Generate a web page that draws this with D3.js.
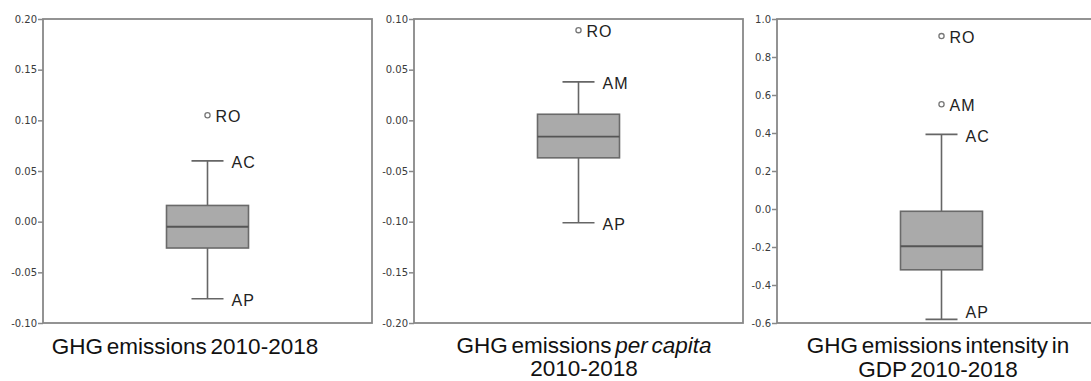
<!DOCTYPE html>
<html>
<head>
<meta charset="utf-8">
<script src="https://cdn.jsdelivr.net/npm/d3@7"></script>
<style>
  body { margin: 0; background: #fff; }
  .tick text { font-family: "DejaVu Sans", sans-serif; font-size: 10px; fill: #3a3a3a; }
  .tick line { stroke: #888; stroke-width: 1.5; }
  .lbl { font-family: "Liberation Sans", Arial, sans-serif; font-size: 16px; fill: #222; letter-spacing: 1px; }
  .title { font-family: "Liberation Sans", Arial, sans-serif; font-size: 22.5px; fill: #111; word-spacing: -2.5px; }
</style>
</head>
<body>
<div id="chart"></div>
<script>
// box plot summaries, one per indicator
const lowerWhisker = [-0.076, -0.101, -0.581];
const firstQuartile = [-0.026, -0.037, -0.320];
const medians = [-0.005, -0.016, -0.196];
const thirdQuartile = [0.016, 0.006, -0.012];
const upperWhisker = [0.060, 0.038, 0.393];
const lowLabels = ["AP", "AP", "AP"];
const highLabels = ["AC", "AM", "AC"];
const outliers = [
    [{ code: "RO", value: 0.105 }],
    [{ code: "RO", value: 0.089 }],
    [{ code: "RO", value: 0.91 }, { code: "AM", value: 0.551 }]
];
const yDomains = [[-0.10, 0.20], [-0.20, 0.10], [-0.6, 1.0]];
const tickValues = [
    [-0.10, -0.05, 0.00, 0.05, 0.10, 0.15, 0.20],
    [-0.20, -0.15, -0.10, -0.05, 0.00, 0.05, 0.10],
    [-0.6, -0.4, -0.2, 0.0, 0.2, 0.4, 0.6, 0.8, 1.0]
];
const tickFormats = [".2f", ".2f", ".1f"];

/** CONSTANTS */
const width = 1091,
    height = 381,
    plotTop = 19,
    plotBottom = 323,
    frameWidth = 329,
    boxWidth = 82,
    capWidth = 32;

// left edge of each panel frame and where its caption sits
const frameLeft = [43, 414, 777];
const titleX = [185, 584, 938];
const lowLabelLift = [0, 0, -9];

const fmtLocale = d3.formatLocale({ decimal: ".", thousands: ",", grouping: [3], currency: ["", ""], minus: "-" });

const svg = d3.select("#chart")
    .append("svg")
    .attr("width", width)
    .attr("height", height);

frameLeft.forEach((x0, i) => {
    const yScale = d3.scaleLinear()
        .domain(yDomains[i])
        .range([plotBottom, plotTop]);

    const cx = x0 + frameWidth / 2;
    const g = svg.append("g");

    // axis
    const yAxis = d3.axisLeft(yScale)
        .tickValues(tickValues[i])
        .tickSize(5)
        .tickPadding(1)
        .tickFormat(fmtLocale.format(tickFormats[i]));

    g.append("g")
        .attr("transform", `translate(${x0},0)`)
        .call(yAxis)
        .call(a => a.select(".domain").remove());

    // frame round the plot
    g.append("rect")
        .attr("x", x0)
        .attr("y", plotTop)
        .attr("width", frameWidth)
        .attr("height", plotBottom - plotTop)
        .attr("fill", "none")
        .attr("stroke", "#888")
        .attr("stroke-width", 1.8);

    // whiskers
    g.append("line")
        .attr("x1", cx).attr("x2", cx)
        .attr("y1", yScale(lowerWhisker[i]))
        .attr("y2", yScale(upperWhisker[i]))
        .attr("stroke", "#666")
        .attr("stroke-width", 1.6);

    [lowerWhisker[i], upperWhisker[i]].forEach(v => {
        g.append("line")
            .attr("x1", cx - capWidth / 2).attr("x2", cx + capWidth / 2)
            .attr("y1", yScale(v)).attr("y2", yScale(v))
            .attr("stroke", "#666")
            .attr("stroke-width", 1.6);
    });

    // box
    g.append("rect")
        .attr("x", cx - boxWidth / 2)
        .attr("y", yScale(thirdQuartile[i]))
        .attr("width", boxWidth)
        .attr("height", yScale(firstQuartile[i]) - yScale(thirdQuartile[i]))
        .attr("fill", "#aaaaaa")
        .attr("stroke", "#6a6a6a")
        .attr("stroke-width", 1.6);

    g.append("line")
        .attr("x1", cx - boxWidth / 2).attr("x2", cx + boxWidth / 2)
        .attr("y1", yScale(medians[i])).attr("y2", yScale(medians[i]))
        .attr("stroke", "#555")
        .attr("stroke-width", 1.8);

    // whisker end labels
    g.append("text")
        .attr("class", "lbl")
        .attr("x", cx + capWidth / 2 + 8)
        .attr("y", yScale(upperWhisker[i]))
        .attr("dy", "0.45em")
        .text(highLabels[i]);

    g.append("text")
        .attr("class", "lbl")
        .attr("x", cx + capWidth / 2 + 8)
        .attr("y", yScale(lowerWhisker[i]) + lowLabelLift[i])
        .attr("dy", "0.45em")
        .text(lowLabels[i]);

    // outliers
    g.selectAll("circle.out")
        .data(outliers[i])
        .join("circle")
        .attr("class", "out")
        .attr("cx", cx)
        .attr("cy", d => yScale(d.value))
        .attr("r", 2.6)
        .attr("fill", "#fff")
        .attr("stroke", "#777")
        .attr("stroke-width", 1.3);

    g.selectAll("text.outlbl")
        .data(outliers[i])
        .join("text")
        .attr("class", "lbl outlbl")
        .attr("x", cx + 8)
        .attr("y", d => yScale(d.value))
        .attr("dy", "0.4em")
        .text(d => d.code);
});

// captions under each panel
svg.append("text").attr("class", "title")
    .attr("x", titleX[0]).attr("y", 354).attr("text-anchor", "middle")
    .text("GHG emissions 2010-2018");

const t2 = svg.append("text").attr("class", "title")
    .attr("x", titleX[1]).attr("y", 353).attr("text-anchor", "middle");
t2.append("tspan").text("GHG emissions ");
t2.append("tspan").attr("font-style", "italic").text("per capita");
svg.append("text").attr("class", "title")
    .attr("x", titleX[1]).attr("y", 376).attr("text-anchor", "middle")
    .text("2010-2018");

svg.append("text").attr("class", "title")
    .attr("x", titleX[2]).attr("y", 353).attr("text-anchor", "middle")
    .text("GHG emissions intensity in");
svg.append("text").attr("class", "title")
    .attr("x", titleX[2]).attr("y", 377).attr("text-anchor", "middle")
    .text("GDP 2010-2018");
</script>
</body>
</html>
